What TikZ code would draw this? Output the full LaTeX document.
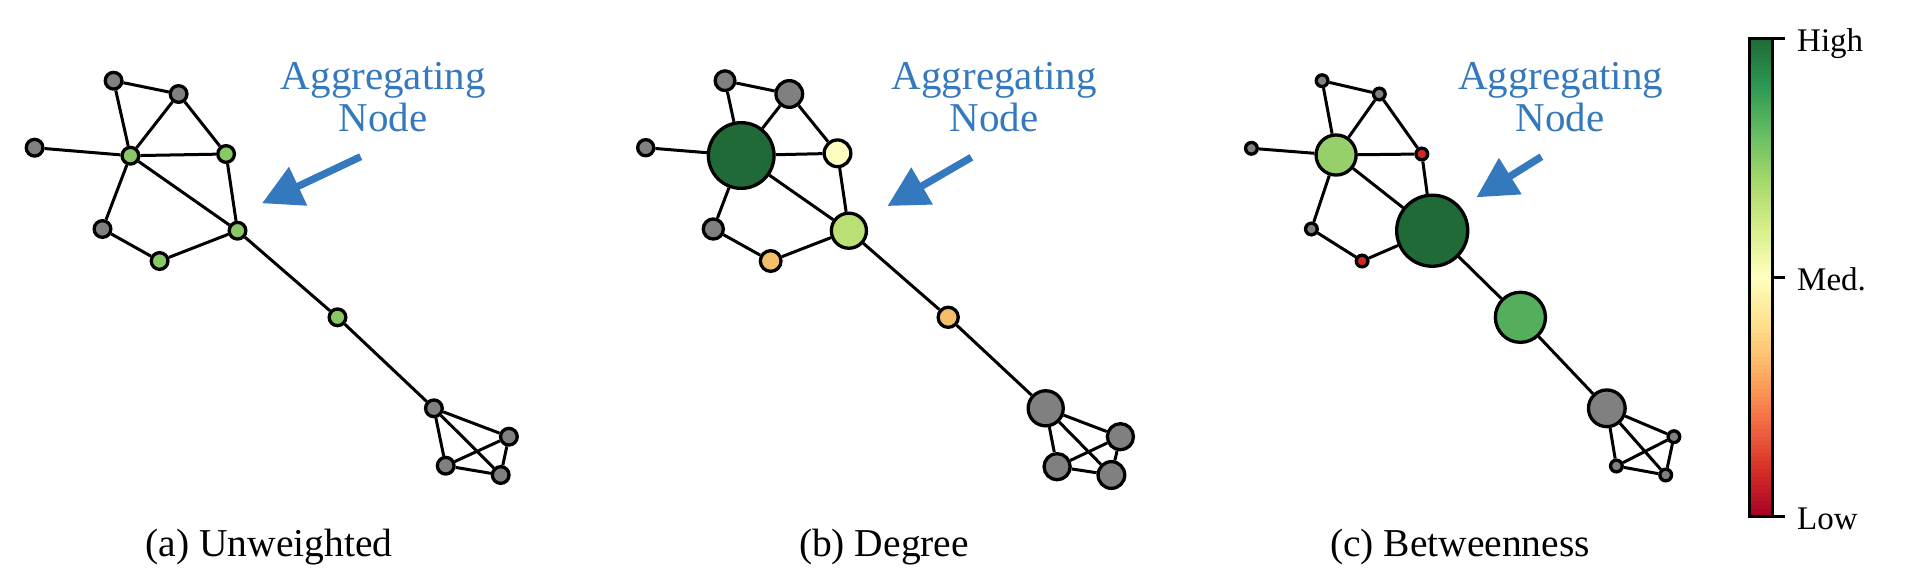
\documentclass[tikz,border=0pt]{standalone}
\usepackage{fontspec}
\setmainfont{Liberation Serif}
\usetikzlibrary{arrows.meta}
\definecolor{ngray}{HTML}{808080}
\definecolor{agreen}{HTML}{88C965}
\definecolor{dgreen}{HTML}{1F6A36}
\definecolor{lyellow}{HTML}{FDFDC0}
\definecolor{ygreen}{HTML}{BAE075}
\definecolor{orng}{HTML}{F4BE6A}
\definecolor{lgreen}{HTML}{97D06A}
\definecolor{mgreen}{HTML}{55AE5B}
\definecolor{nred}{HTML}{D02828}
\definecolor{ablue}{HTML}{3478BE}
\definecolor{rg0}{HTML}{A50026}
\definecolor{rg1}{HTML}{D73027}
\definecolor{rg2}{HTML}{F46D43}
\definecolor{rg3}{HTML}{FDAE61}
\definecolor{rg4}{HTML}{FEE08B}
\definecolor{rg5}{HTML}{FFFFBF}
\definecolor{rg6}{HTML}{D9EF8B}
\definecolor{rg7}{HTML}{A6D96A}
\definecolor{rg8}{HTML}{66BD63}
\definecolor{rg9}{HTML}{2A9852}
\definecolor{rg10}{HTML}{1F6A36}
\tikzset{
  gn/.style={circle, draw=black, line width=3.3pt, inner sep=0pt, minimum size=#1},
  edge/.style={line width=3pt, black},
  ann/.style={text=ablue, font=\fontsize{41}{41}\selectfont, anchor=base, inner sep=0pt},
  captext/.style={font=\fontsize{39.5}{40}\selectfont, anchor=base, inner sep=0pt},
  cbl/.style={font=\fontsize{33}{33}\selectfont, anchor=base west, inner sep=0pt},
  aggarrow/.style={draw=ablue, line width=7.3pt, -{Triangle[length=40pt,width=41pt]}},
  cbline/.style={line width=2.8pt, black},
}
\newcommand{\graphedges}[1]{%
  \foreach \u/\v in {1/2,1/4,2/4,2/5,3/4,4/5,4/8,4/6,5/8,6/7,7/8,8/9,9/10,10/11,10/12,10/13,11/12,11/13,12/13}
    \draw[edge] (#1\u) -- (#1\v);}
\begin{document}
\begin{tikzpicture}[x=1pt,y=-1pt]
\useasboundingbox (0,0) rectangle (1918,582);

% ---------- panel (a)
\node[gn=16.7, fill=ngray]  (a1)  at (113.6,80.7) {};
\node[gn=16.7, fill=ngray]  (a2)  at (178.6,94) {};
\node[gn=16.7, fill=ngray]  (a3)  at (34.6,147.7) {};
\node[gn=16.7, fill=agreen] (a4)  at (130.4,155.7) {};
\node[gn=16.7, fill=agreen] (a5)  at (226.1,154) {};
\node[gn=16.7, fill=ngray]  (a6)  at (102.5,229) {};
\node[gn=16.7, fill=agreen] (a7)  at (159.6,261) {};
\node[gn=16.7, fill=agreen] (a8)  at (237.5,230.7) {};
\node[gn=16.7, fill=agreen] (a9)  at (337.5,317.3) {};
\node[gn=16.7, fill=ngray]  (a10) at (433.9,408.3) {};
\node[gn=16.7, fill=ngray]  (a11) at (508.9,436.7) {};
\node[gn=16.7, fill=ngray]  (a12) at (445.7,465.7) {};
\node[gn=16.7, fill=ngray]  (a13) at (500.7,475) {};
\graphedges{a}
\node[ann] (ta1) at (383.4,89) {Aggregating};
\node[ann] (ta2) at (383.0,131.3) {Node};
\coordinate (sa) at (360.7,156.7);
\coordinate (ea) at (262,203.3);
\draw[aggarrow] (sa) -- (ea);
\node[captext] (capa) at (269,556.7) {(a) Unweighted};

% ---------- panel (b)
\node[gn=19.7, fill=ngray]   (b1)  at (725,80.7) {};
\node[gn=26.7, fill=ngray]   (b2)  at (789.3,94) {};
\node[gn=16.1, fill=ngray]   (b3)  at (645.7,147.7) {};
\node[gn=65.7, fill=dgreen]  (b4)  at (741.2,155.5) {};
\node[gn=26.7, fill=lyellow] (b5)  at (837.5,153.3) {};
\node[gn=20.1, fill=ngray]   (b6)  at (713.3,229) {};
\node[gn=20.7, fill=orng]    (b7)  at (770.7,261) {};
\node[gn=35.1, fill=ygreen]  (b8)  at (848.9,230.7) {};
\node[gn=20.1, fill=orng]    (b9)  at (948.2,317.3) {};
\node[gn=35.1, fill=ngray]   (b10) at (1045.7,408.3) {};
\node[gn=26.1, fill=ngray]   (b11) at (1120.4,436.7) {};
\node[gn=26.1, fill=ngray]   (b12) at (1057.1,466.7) {};
\node[gn=26.7, fill=ngray]   (b13) at (1111.4,475) {};
\graphedges{b}
\node[ann] (tb1) at (994.3,89) {Aggregating};
\node[ann] (tb2) at (994.0,131.3) {Node};
\coordinate (sb) at (971.4,157.3);
\coordinate (eb) at (887.5,206);
\draw[aggarrow] (sb) -- (eb);
\node[captext] (capb) at (884,556.7) {(b) Degree};

% ---------- panel (c)
\node[gn=11.7, fill=ngray]  (c1)  at (1322.1,80.7) {};
\node[gn=11.7, fill=ngray]  (c2)  at (1379.3,94) {};
\node[gn=11.7, fill=ngray]  (c3)  at (1251.4,148.3) {};
\node[gn=40.1, fill=lgreen] (c4)  at (1336.1,155) {};
\node[gn=11.7, fill=nred]   (c5)  at (1421.8,154) {};
\node[gn=11.7, fill=ngray]  (c6)  at (1311.4,229) {};
\node[gn=11.7, fill=nred]   (c7)  at (1362.1,261) {};
\node[gn=71.1, fill=dgreen] (c8)  at (1432.2,230.7) {};
\node[gn=50.1, fill=mgreen] (c9)  at (1520.4,317.3) {};
\node[gn=36.7, fill=ngray]  (c10) at (1606.8,408.3) {};
\node[gn=11.7, fill=ngray]  (c11) at (1673.9,436.7) {};
\node[gn=11.7, fill=ngray]  (c12) at (1616.4,466) {};
\node[gn=11.7, fill=ngray]  (c13) at (1665.7,475) {};
\graphedges{c}
\node[ann] (tc1) at (1560.5,89) {Aggregating};
\node[ann] (tc2) at (1560.2,131.3) {Node};
\coordinate (sc) at (1541.4,156.7);
\coordinate (ec) at (1476.4,197.3);
\draw[aggarrow] (sc) -- (ec);
\node[captext] (capc) at (1460,556.7) {(c) Betweenness};

% ---------- colour bar
\foreach \i in {0,...,9} {
  \pgfmathtruncatemacro\j{\i+1}
  \foreach \k in {0,...,11} {
    \pgfmathsetmacro\p{(\k+0.5)/12*100}
    \pgfmathsetmacro\yb{516.7-(\i+\k/12)*47.85}
    \pgfmathsetmacro\yt{\yb-47.85/12-0.4}
    \fill[rg\j!\p!rg\i] (1749.3,\yb) rectangle (1772.7,\yt);
  }
}
\draw[cbline] (1749.3,38.5) rectangle (1772.7,516.7);
\coordinate (th) at (1772.7,38.5);
\coordinate (th2) at (1785,38.5);
\coordinate (tm) at (1772.7,277.6);
\coordinate (tm2) at (1785,277.6);
\coordinate (tl) at (1772.7,516.7);
\coordinate (tl2) at (1785,516.7);
\draw[cbline] (th) -- (th2);
\draw[cbline] (tm) -- (tm2);
\draw[cbline] (tl) -- (tl2);
\node[cbl] (lh) at (1797,51.3) {High};
\node[cbl] (lm) at (1797,290) {Med.};
\node[cbl] (ll) at (1797,529) {Low};
\end{tikzpicture}
\end{document}
